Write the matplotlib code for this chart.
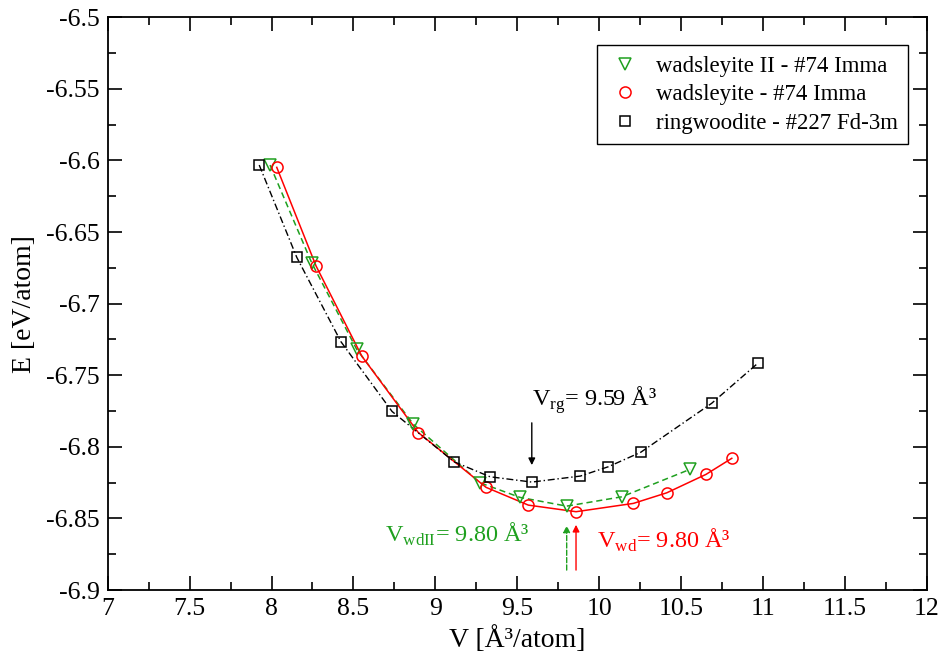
import matplotlib
matplotlib.use("Agg")
import matplotlib.pyplot as plt
from matplotlib.ticker import MultipleLocator, FormatStrFormatter

plt.rcParams["font.family"] = ["Liberation Serif", "DejaVu Serif"]
plt.rcParams["mathtext.fontset"] = "custom"
plt.rcParams["mathtext.rm"] = "Liberation Serif"
plt.rcParams["axes.unicode_minus"] = False

# volume / energy
v_ring = [7.925, 8.154, 8.424, 8.736, 9.114, 9.334, 9.589, 9.886, 10.056, 10.254, 10.687, 10.968]
e_ring = [-6.6032, -6.6676, -6.7266, -6.7753, -6.8104, -6.8209, -6.8246, -6.8204, -6.8139, -6.8038, -6.7696, -6.7417]

v_wad = [8.032, 8.272, 8.551, 8.896, 9.310, 9.568, 9.859, 10.209, 10.413, 10.653, 10.810]
e_wad = [-6.6048, -6.6737, -6.7366, -6.7900, -6.8283, -6.8407, -6.8453, -6.8395, -6.8321, -6.8192, -6.8080]

v_wad2 = [7.991, 8.245, 8.520, 8.866, 9.273, 9.517, 9.802, 10.138, 10.555]
e_wad2 = [-6.6032, -6.6714, -6.7319, -6.7842, -6.8251, -6.8353, -6.8414, -6.8349, -6.8157]

labels = ["wadsleyite II - #74 Imma", "wadsleyite - #74 Imma", "ringwoodite - #227 Fd-3m"]

fig = plt.figure(figsize=(9.44, 6.58), dpi=100)
ax = fig.add_axes([0.1141, 0.1033, 0.8676, 0.8704])

ax.plot(v_wad2, e_wad2, ls=(0, (4, 2.5)), color="#1fa01f", lw=1.1, zorder=2)
ax.plot(v_wad, e_wad, ls="-", color="red", lw=1.1, zorder=2)
ax.plot(v_ring, e_ring, ls=(0, (5, 2, 1, 2)), color="black", lw=1.0, zorder=2)

ax.plot(v_wad2, e_wad2, ls="none", marker="v", ms=8, mfc="none", mec="#1fa01f", mew=1.1,
        label=labels[0], zorder=3)
ax.plot(v_wad, e_wad, ls="none", marker="o", ms=8, mfc="none", mec="red", mew=1.1,
        label=labels[1], zorder=3)
ax.plot(v_ring, e_ring, ls="none", marker="s", ms=7, mfc="none", mec="black", mew=1.1,
        label=labels[2], zorder=3)

# arrows marking equilibrium volumes
ax.annotate("", xy=(9.589, -6.8147), xytext=(9.589, -6.7813),
            arrowprops=dict(arrowstyle="-|>", color="black", lw=1.0, mutation_scale=10))
ax.annotate("", xy=(9.802, -6.8530), xytext=(9.802, -6.8880),
            arrowprops=dict(arrowstyle="-|>", color="#1fa01f", lw=1.0, ls="--", mutation_scale=10))
ax.annotate("", xy=(9.859, -6.8525), xytext=(9.859, -6.8880),
            arrowprops=dict(arrowstyle="-|>", color="red", lw=1.0, mutation_scale=10))

ax.text(9.59, -6.7713, r"V$_{\rm rg}$= 9.59 Å³", fontsize=17.5, color="black", ha="left", va="baseline")
ax.text(8.695, -6.8665, r"V$_{\rm wdII}$= 9.80 Å³", fontsize=17.5, color="#1fa01f", ha="left", va="baseline")
ax.text(9.985, -6.8707, r"V$_{\rm wd}$= 9.80 Å³", fontsize=17.5, color="red", ha="left", va="baseline")

ax.set_xlim(7, 12)
ax.set_ylim(-6.9, -6.5)
ax.xaxis.set_major_locator(MultipleLocator(0.5))
ax.xaxis.set_minor_locator(MultipleLocator(0.25))
ax.yaxis.set_major_locator(MultipleLocator(0.05))
ax.yaxis.set_minor_locator(MultipleLocator(0.025))
ax.xaxis.set_major_formatter(FormatStrFormatter("%g"))
ax.yaxis.set_major_formatter(FormatStrFormatter("%g"))
ax.tick_params(which="both", direction="in", top=True, right=True, labelsize=18.5, width=1.2)
ax.tick_params(which="major", length=10, pad=6)
ax.tick_params(which="minor", length=6)
for s in ax.spines.values():
    s.set_linewidth(1.3)

ax.set_xlabel("V [Å³/atom]", fontsize=20, labelpad=4)
ax.set_ylabel("E [eV/atom]", fontsize=20, labelpad=6)

leg = ax.legend(loc="upper right", bbox_to_anchor=(0.977, 0.951), fontsize=16.5, frameon=True,
                fancybox=False, edgecolor="black", framealpha=1, handletextpad=0.6,
                borderpad=0.45, labelspacing=0.33, handlelength=1.5, borderaxespad=0)
leg.get_frame().set_linewidth(1.0)

fig.savefig("out.png", dpi=100)
